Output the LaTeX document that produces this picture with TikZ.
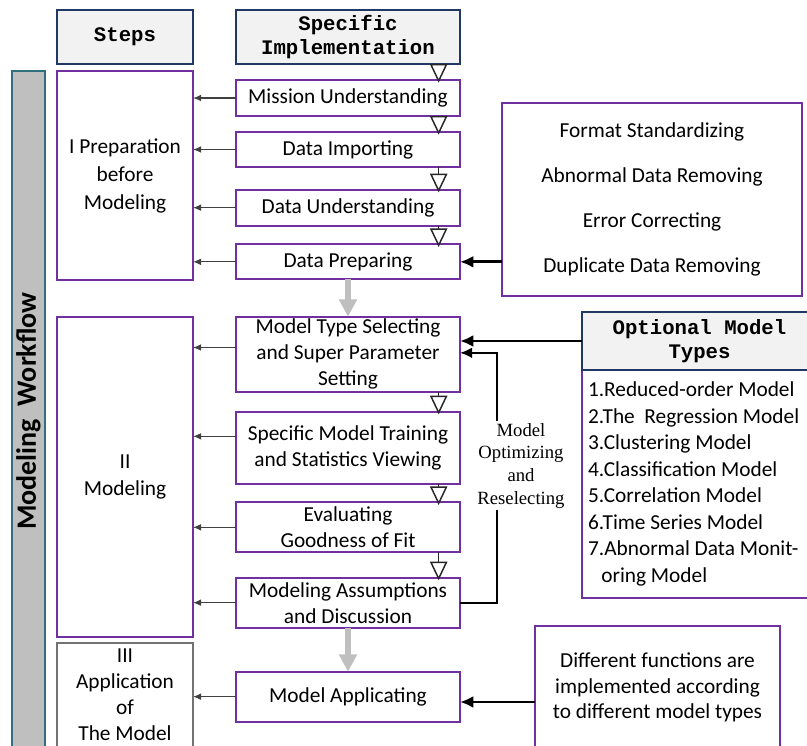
\documentclass[tikz,border=0pt]{standalone}
\usepackage{fontspec}
\setmainfont{Carlito}
\newfontfamily\headfont{Liberation Mono}
\newfontfamily\notefont{Liberation Serif}
\usetikzlibrary{arrows.meta, positioning}

\definecolor{boxpurple}{HTML}{7030A0}
\definecolor{headblue}{HTML}{1F3864}
\definecolor{headfill}{HTML}{F2F2F2}
\definecolor{barteal}{HTML}{31707F}
\definecolor{bargray}{HTML}{BFBFBF}

\begin{document}
\begin{tikzpicture}[
    x=0.75pt, y=-0.75pt,
    box/.style={rectangle, draw=boxpurple, line width=1.4pt, fill=white,
                minimum width=168pt, align=center, inner xsep=2pt, inner ysep=0.5pt,
                outer sep=0pt, font=\fontsize{16}{19.5}\selectfont},
    stepbox/.style={box, minimum width=102pt, font=\fontsize{16}{20}\selectfont},
    headbox/.style={rectangle, draw=headblue, line width=1.4pt, fill=headfill,
                    minimum height=40.5pt, align=center, outer sep=0pt,
                    font=\headfont\bfseries\fontsize{15.5}{18}\selectfont},
    sidearrow/.style={-{Latex[length=6pt,width=5pt]}, black!75, line width=0.9pt},
    nextarrow/.style={-{Triangle[length=14pt,width=13pt,fill=white]}, draw=black!85,
                      line width=1.1pt, shorten >=-2pt},
    bigarrow/.style={-{Latex[length=10pt,width=9pt]}, line width=2.2pt},
    fbarrow/.style={-{Latex[length=9pt,width=8pt]}, line width=1.5pt},
    flowarrow/.style={-{Triangle[length=13pt,width=13pt]}, line width=4.5pt, bargray},
    note/.style={fill=white, align=center, inner sep=1.5pt,
                 font=\notefont\fontsize{14}{17}\selectfont}
]
    \useasboundingbox (0,0) rectangle (807,746);

    \node[draw=barteal, fill=bargray, line width=1.4pt, rotate=90,
          minimum width=510pt, minimum height=24.75pt,
          font=\bfseries\fontsize{21}{24}\selectfont] (bar) at (28.5,411) {Modeling\ \ Workflow};

    \node[headbox, minimum width=102pt] (stepshead) at (125,37) {Steps};
    \node[headbox, minimum width=168pt] (implhead) at (348,37) {Specific\\Implementation};

    \node[box, minimum height=27pt] (mission) [below=12pt of implhead] {Mission Understanding};
    \node[box, minimum height=26.25pt] (importing) [below=12pt of mission] {Data Importing};
    \node[box, minimum height=27pt] (understanding) [below=17pt of importing] {Data Understanding};
    \node[box, minimum height=26.25pt] (preparing) [below=14pt of understanding] {Data Preparing};
    \node[box, minimum height=56.25pt] (selecting) [below=28pt of preparing]
        {Model Type Selecting\\and Super Parameter\\Setting};
    \node[box, minimum height=54pt] (training) [below=15pt of selecting]
        {Specific Model Training\\and Statistics Viewing};
    \node[box, minimum height=37.5pt] (evaluating) [below=14pt of training] {Evaluating\\Goodness of Fit};
    \node[box, minimum height=37.5pt] (assumptions) [below=19pt of evaluating]
        {Modeling Assumptions\\and Discussion};
    \node[box, minimum height=37.5pt] (applicating) [below=33pt of assumptions] {Model Applicating};

    \node[stepbox, minimum height=156.75pt, font=\fontsize{16}{21}\selectfont] (prep) at (125,175.5)
        {I Preparation\\before\\Modeling};
    \node[stepbox, minimum height=240pt] (modeling) at (125,477) {II\\Modeling};
    \node[stepbox, draw=black!55, minimum height=78pt, font=\fontsize{16}{19.5}\selectfont]
        (application) at (125,695) {III\\Application\\of\\The Model};

    \foreach \src/\dst/\dy in {mission/prep/0, importing/prep/0, understanding/prep/0,
                               preparing/prep/0, selecting/modeling/5, training/modeling/8.5,
                               evaluating/modeling/0, assumptions/modeling/0,
                               applicating/application/0}
        \draw[sidearrow] ([yshift=\dy pt]\src.west) -- ([yshift=\dy pt]\src.west -| \dst.east);

    \foreach \a/\b in {implhead/mission, mission/importing, importing/understanding,
                       understanding/preparing, selecting/training, training/evaluating,
                       evaluating/assumptions}
        \draw[nextarrow] ([xshift=-16pt]\a.south east) -- ([xshift=-16pt]\b.north east);

    \draw[flowarrow] (preparing.south) -- (selecting.north);
    \draw[flowarrow] (assumptions.south) -- (applicating.north);

    \node[box, minimum width=225pt, minimum height=144.75pt,
          font=\fontsize{16}{33.75}\selectfont] (cleaning) at (652,199.5)
        {Format Standardizing\\Abnormal Data Removing\\Error Correcting\\Duplicate Data Removing};
    \draw[bigarrow] (cleaning.west |- preparing.east) -- (preparing.east);

    \node[box, anchor=north west, text width=195pt, align=flush left, inner xsep=4.5pt,
          minimum height=171pt, font=\fontsize{16}{19.9}\selectfont] (optlist) at (582,370)
        {1.Reduced-order Model\\2.The\ \ Regression Model\\3.Clustering Model\\
         4.Classification Model\\5.Correlation Model\\6.Time Series Model\\
         7.Abnormal Data Monit-\\\hspace*{10pt}oring Model};
    \node[headbox, minimum width=176.25pt, minimum height=43.5pt] (opthead) at (699.5,341)
        {Optional Model\\Types};
    \draw[bigarrow] (opthead.west) -- (opthead.west -| selecting.east);

    \draw[fbarrow] (assumptions.east) -- ++(37,0) |-
        node[note, pos=0.274, xshift=18pt] (fbnote) {Model\\Optimizing\\and\\Reselecting}
        ([yshift=1pt]selecting.east);

    \node[box, minimum width=183.75pt, minimum height=92.25pt,
          font=\fontsize{16}{19}\selectfont] (functions) at (657.5,687.5)
        {Different functions are\\implemented according\\to different model types};
    \draw[bigarrow] ([yshift=-4pt]functions.west |- applicating.east) -- ([yshift=-4pt]applicating.east);
\end{tikzpicture}
\end{document}
